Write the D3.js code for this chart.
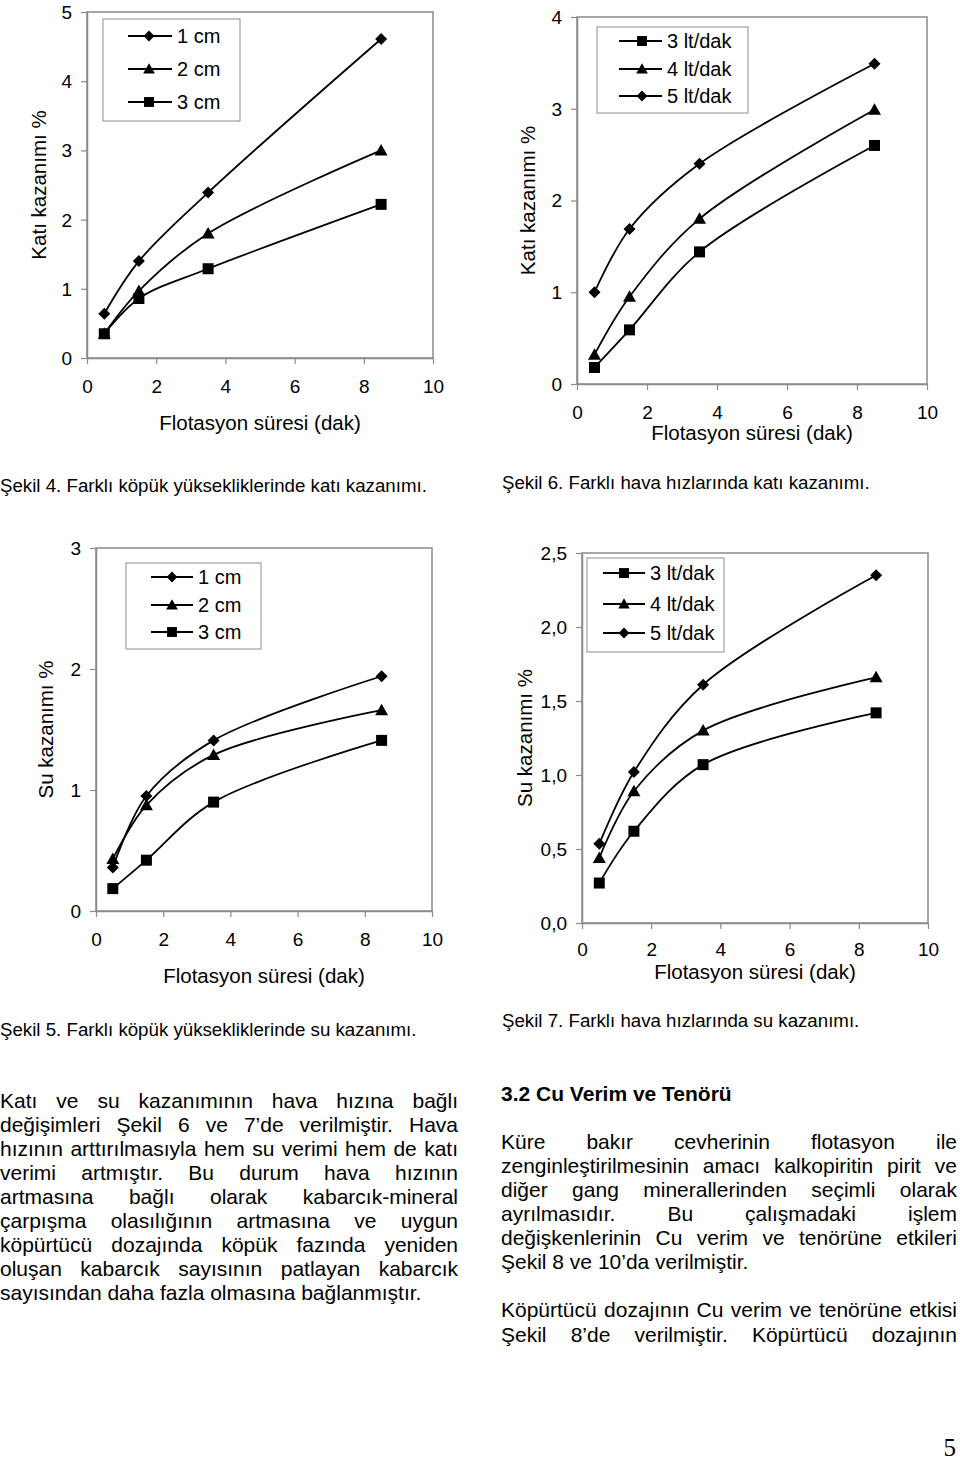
<!DOCTYPE html>
<html>
<head>
<meta charset="utf-8">
<script src="https://cdn.jsdelivr.net/npm/d3@7"></script>
<style>
  html, body { margin: 0; padding: 0; background: #fff; }
  svg { display: block; font-family: "Liberation Sans", Arial, sans-serif; }
</style>
</head>
<body>
<script>
// ---------------- DATA ----------------
const xTimes = [0.5, 1.5, 3.5, 8.5];
const xTickValues = [0, 2, 4, 6, 8, 10];

// Şekil 4 – katı kazanımı, köpük yüksekliği
const fig4Labels = ["1 cm", "2 cm", "3 cm"];
const fig4_1cm = [0.64, 1.40, 2.39, 4.61];
const fig4_2cm = [0.35, 0.97, 1.80, 3.00];
const fig4_3cm = [0.35, 0.86, 1.29, 2.22];
const fig4YTicks = [0, 1, 2, 3, 4, 5];

// Şekil 6 – katı kazanımı, hava hızı
const fig6Labels = ["3 lt/dak", "4 lt/dak", "5 lt/dak"];
const fig6_3lt = [0.18, 0.59, 1.44, 2.60];
const fig6_4lt = [0.32, 0.95, 1.80, 2.99];
const fig6_5lt = [1.00, 1.69, 2.40, 3.49];
const fig6YTicks = [0, 1, 2, 3, 4];

// Şekil 5 – su kazanımı, köpük yüksekliği
const fig5Labels = ["1 cm", "2 cm", "3 cm"];
const fig5_1cm = [0.36, 0.95, 1.41, 1.94];
const fig5_2cm = [0.43, 0.875, 1.29, 1.66];
const fig5_3cm = [0.185, 0.42, 0.90, 1.41];
const fig5YTicks = [0, 1, 2, 3];

// Şekil 7 – su kazanımı, hava hızı
const fig7Labels = ["3 lt/dak", "4 lt/dak", "5 lt/dak"];
const fig7_3lt = [0.27, 0.62, 1.07, 1.42];
const fig7_4lt = [0.44, 0.89, 1.30, 1.66];
const fig7_5lt = [0.535, 1.02, 1.61, 2.35];
const fig7YTicks = [0, 0.5, 1.0, 1.5, 2.0, 2.5];

const xTitle = "Flotasyon süresi (dak)";
const yTitleKati = "Katı kazanımı %";
const yTitleSu = "Su kazanımı %";

const leftParagraph = [
  "Katı ve su kazanımının hava hızına bağlı",
  "değişimleri Şekil 6 ve 7’de verilmiştir. Hava",
  "hızının arttırılmasıyla hem su verimi hem de katı",
  "verimi artmıştır. Bu durum hava hızının",
  "artmasına bağlı olarak kabarcık-mineral",
  "çarpışma olasılığının artmasına ve uygun",
  "köpürtücü dozajında köpük fazında yeniden",
  "oluşan kabarcık sayısının patlayan kabarcık",
  "sayısından daha fazla olmasına bağlanmıştır."
];
const rightHeading = "3.2 Cu Verim ve Tenörü";
const rightParagraph1 = [
  "Küre bakır cevherinin flotasyon ile",
  "zenginleştirilmesinin amacı kalkopiritin pirit ve",
  "diğer gang minerallerinden seçimli olarak",
  "ayrılmasıdır. Bu çalışmadaki işlem",
  "değişkenlerinin Cu verim ve tenörüne etkileri",
  "Şekil 8 ve 10’da verilmiştir."
];
const rightParagraph2 = [
  "Köpürtücü dozajının Cu verim ve tenörüne etkisi",
  "Şekil 8’de verilmiştir. Köpürtücü dozajının"
];

// ---------------- DRAWING ----------------
const svg = d3.select("body").append("svg")
  .attr("width", 960).attr("height", 1460);

const GRAY = "#8a8a8a";

function markerPath(type) {
  if (type === "diamond") return "M0,-6L6,0L0,6L-6,0Z";
  if (type === "square") return "M-5.5,-5.5H5.5V5.5H-5.5Z";
  return "M0,-6.5L6.5,5L-6.5,5Z"; // triangle
}

function drawChart(o) {
  const g = svg.append("g");
  const x = d3.scaleLinear().domain([0, 10]).range([o.x0, o.x1]);
  const y = d3.scaleLinear().domain([0, o.ymax]).range([o.y1, o.y0]);

  // plot frame
  g.append("rect")
    .attr("x", o.x0).attr("y", o.y0)
    .attr("width", o.x1 - o.x0).attr("height", o.y1 - o.y0)
    .attr("fill", "none").attr("stroke", GRAY).attr("stroke-width", 1.5);

  // x axis
  const xg = g.append("g").attr("transform", `translate(0,${o.y1})`)
    .call(d3.axisBottom(x).tickValues(xTickValues).tickSize(6).tickSizeOuter(0).tickFormat(d3.format("d")));
  xg.selectAll("path.domain").attr("stroke", GRAY).attr("stroke-width", 1.5);
  xg.selectAll(".tick line").attr("stroke", GRAY).attr("stroke-width", 1.2);
  xg.selectAll(".tick text").attr("y", o.xTickOff).attr("dy", 0)
    .attr("font-size", 19).attr("fill", "#000")
    .attr("font-family", "Liberation Sans, Arial, sans-serif");

  // y axis
  const yg = g.append("g").attr("transform", `translate(${o.x0},0)`)
    .call(d3.axisLeft(y).tickValues(o.yTicks).tickSize(6).tickSizeOuter(0).tickPadding(9).tickFormat(o.yFormat));
  yg.selectAll("path.domain").attr("stroke", GRAY).attr("stroke-width", 1.5);
  yg.selectAll(".tick line").attr("stroke", GRAY).attr("stroke-width", 1.2);
  yg.selectAll(".tick text").attr("dy", "0.34em")
    .attr("font-size", 19).attr("fill", "#000")
    .attr("font-family", "Liberation Sans, Arial, sans-serif");

  // axis titles
  g.append("text")
    .attr("x", (o.x0 + o.x1) / 2).attr("y", o.y1 + o.xTitleOff)
    .attr("text-anchor", "middle").attr("font-size", 20.5).text(xTitle);
  g.append("text")
    .attr("transform", `translate(${o.yTitleX},${(o.y0 + o.y1) / 2}) rotate(-90)`)
    .attr("text-anchor", "middle").attr("font-size", 20.5).text(o.yTitle);

  // lines + markers
  const line = d3.line()
    .x((d, i) => x(xTimes[i]))
    .y(d => y(d))
    .curve(d3.curveCatmullRom.alpha(0.5));

  o.series.forEach(s => {
    g.append("path").datum(s.values)
      .attr("d", line).attr("fill", "none")
      .attr("stroke", "#000").attr("stroke-width", 1.8);
    g.selectAll(null).data(s.values).enter().append("path")
      .attr("transform", (d, i) => `translate(${x(xTimes[i])},${y(d)})`)
      .attr("d", markerPath(s.marker)).attr("fill", "#000");
  });

  // legend
  const L = o.legend;
  g.append("rect")
    .attr("x", L.bx0).attr("y", L.by0)
    .attr("width", L.bx1 - L.bx0).attr("height", L.by1 - L.by0)
    .attr("fill", "#fff").attr("stroke", "#a0a0a0").attr("stroke-width", 1.2);
  o.series.forEach((s, i) => {
    const ey = L.rows[i];
    g.append("line").attr("x1", L.lx0).attr("x2", L.lx1)
      .attr("y1", ey).attr("y2", ey).attr("stroke", "#000").attr("stroke-width", 1.8);
    g.append("path").attr("transform", `translate(${L.mx},${ey}) scale(0.9)`)
      .attr("d", markerPath(s.marker)).attr("fill", "#000");
    g.append("text").attr("x", L.tx).attr("y", ey + 7)
      .attr("font-size", 20).text(s.label);
  });

  // caption
  g.append("text").attr("x", o.capX).attr("y", o.capY)
    .attr("font-size", 18.7).text(o.caption);
}

const fmtInt = d3.format("d");
const fmtComma = d => d3.format(".1f")(d).replace(".", ",");

// Şekil 4
drawChart({
  x0: 87, x1: 433, y0: 12, y1: 358, ymax: 5, yTicks: fig4YTicks, yFormat: fmtInt,
  xTickOff: 35, xTitleOff: 72, yTitleX: 46, yTitle: yTitleKati,
  series: [
    { label: fig4Labels[0], values: fig4_1cm, marker: "diamond" },
    { label: fig4Labels[1], values: fig4_2cm, marker: "triangle" },
    { label: fig4Labels[2], values: fig4_3cm, marker: "square" }
  ],
  legend: { bx0: 103, bx1: 240, by0: 19, by1: 121, rows: [36, 69, 102], lx0: 128, lx1: 172, mx: 149, tx: 177 },
  caption: "Şekil 4. Farklı köpük yüksekliklerinde katı kazanımı.", capX: 0, capY: 492
});

// Şekil 6
drawChart({
  x0: 577, x1: 927, y0: 17, y1: 384, ymax: 4, yTicks: fig6YTicks, yFormat: fmtInt,
  xTickOff: 35, xTitleOff: 56, yTitleX: 535, yTitle: yTitleKati,
  series: [
    { label: fig6Labels[0], values: fig6_3lt, marker: "square" },
    { label: fig6Labels[1], values: fig6_4lt, marker: "triangle" },
    { label: fig6Labels[2], values: fig6_5lt, marker: "diamond" }
  ],
  legend: { bx0: 597, bx1: 748, by0: 27, by1: 113, rows: [41, 69, 96], lx0: 619, lx1: 662, mx: 642, tx: 667 },
  caption: "Şekil 6. Farklı hava hızlarında katı kazanımı.", capX: 502, capY: 489
});

// Şekil 5
drawChart({
  x0: 96, x1: 432, y0: 548, y1: 911, ymax: 3, yTicks: fig5YTicks, yFormat: fmtInt,
  xTickOff: 35, xTitleOff: 72, yTitleX: 53, yTitle: yTitleSu,
  series: [
    { label: fig5Labels[0], values: fig5_1cm, marker: "diamond" },
    { label: fig5Labels[1], values: fig5_2cm, marker: "triangle" },
    { label: fig5Labels[2], values: fig5_3cm, marker: "square" }
  ],
  legend: { bx0: 126, bx1: 261, by0: 563, by1: 649, rows: [577, 605, 632], lx0: 151, lx1: 193, mx: 172, tx: 198 },
  caption: "Şekil 5. Farklı köpük yüksekliklerinde su kazanımı.", capX: 0, capY: 1036
});

// Şekil 7
drawChart({
  x0: 582, x1: 928, y0: 553, y1: 923, ymax: 2.5, yTicks: fig7YTicks, yFormat: fmtComma,
  xTickOff: 33, xTitleOff: 56, yTitleX: 532, yTitle: yTitleSu,
  series: [
    { label: fig7Labels[0], values: fig7_3lt, marker: "square" },
    { label: fig7Labels[1], values: fig7_4lt, marker: "triangle" },
    { label: fig7Labels[2], values: fig7_5lt, marker: "diamond" }
  ],
  legend: { bx0: 587, bx1: 724, by0: 558, by1: 652, rows: [573, 604, 633], lx0: 603, lx1: 645, mx: 624, tx: 650 },
  caption: "Şekil 7. Farklı hava hızlarında su kazanımı.", capX: 502, capY: 1027
});

// ---------------- BODY TEXT ----------------
const measure = svg.append("text").attr("font-size", 21).attr("visibility", "hidden");
function textWidth(t, weight) {
  measure.attr("font-weight", weight || "normal").text(t);
  return measure.node().getComputedTextLength();
}
function writeLine(str, x0, x1, y, justify, weight) {
  const t = svg.append("text").attr("y", y).attr("font-size", 21)
    .attr("font-weight", weight || "normal");
  if (!justify) { t.attr("x", x0).text(str); return; }
  const words = str.split(" ");
  const widths = words.map(w => textWidth(w, weight));
  const total = d3.sum(widths);
  const gap = words.length > 1 ? (x1 - x0 - total) / (words.length - 1) : 0;
  let cx = x0;
  words.forEach((w, i) => {
    t.append("tspan").attr("x", cx).text(w);
    cx += widths[i] + gap;
  });
}

leftParagraph.forEach((s, i) => {
  writeLine(s, 0, 458, 1108 + 24 * i, i < leftParagraph.length - 1);
});
writeLine(rightHeading, 501, 957, 1101, false, "bold");
rightParagraph1.forEach((s, i) => {
  writeLine(s, 501, 957, 1149 + 24 * i, i < rightParagraph1.length - 1);
});
rightParagraph2.forEach((s, i) => {
  writeLine(s, 501, 957, 1317 + 24.5 * i, true);
});
measure.remove();

svg.append("text").attr("x", 956).attr("y", 1456).attr("text-anchor", "end")
  .attr("font-family", "Liberation Serif, Times New Roman, serif")
  .attr("font-size", 25).text("5");
</script>
</body>
</html>
